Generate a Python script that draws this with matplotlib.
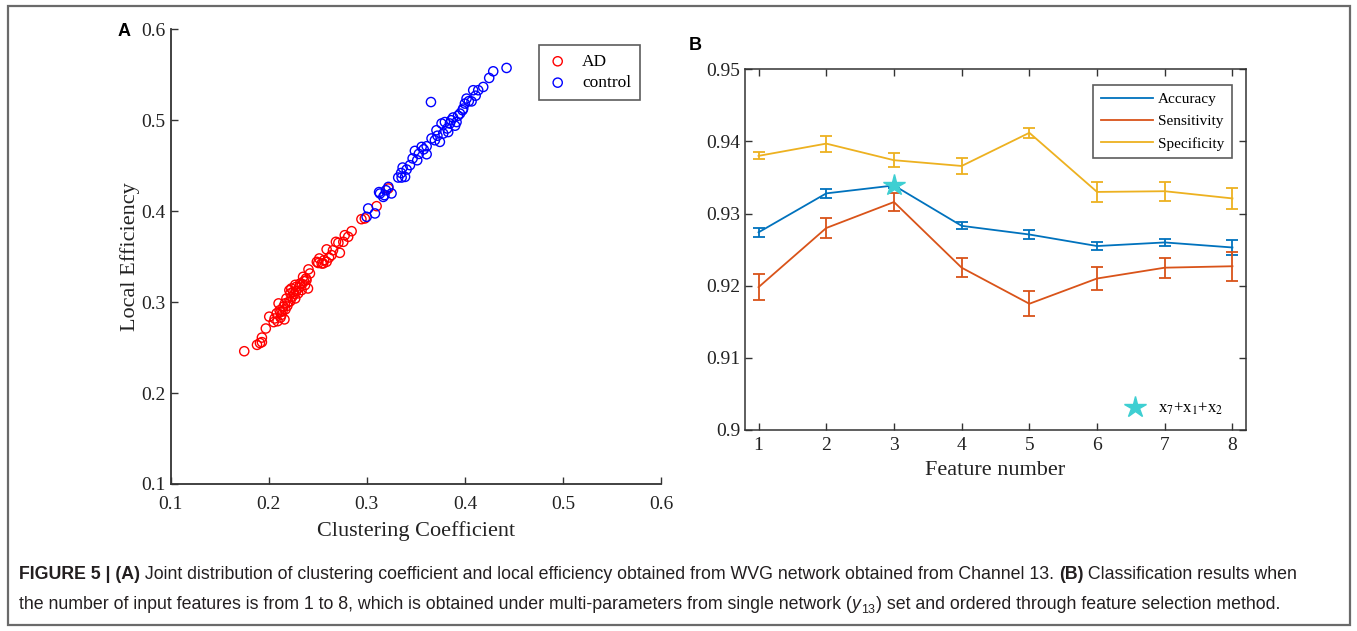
import matplotlib.pyplot as plt
from matplotlib.patches import Rectangle
from matplotlib.lines import Line2D

# ---- panel A: clustering coefficient vs local efficiency ----
ad_cc = [0.175, 0.188, 0.191, 0.193, 0.193, 0.197, 0.2005, 0.205, 0.206, 0.208,
         0.210, 0.211, 0.213, 0.215, 0.2165, 0.218, 0.220, 0.222, 0.223, 0.225,
         0.227, 0.228, 0.230, 0.232, 0.2335, 0.235, 0.237, 0.2385, 0.240, 0.242,
         0.2505, 0.2555, 0.259, 0.209, 0.212, 0.214, 0.217, 0.219, 0.222, 0.224,
         0.226, 0.228, 0.231, 0.234, 0.236, 0.238, 0.227, 0.221, 0.2405, 0.249,
         0.2515, 0.254, 0.2565, 0.259, 0.2615, 0.264, 0.2655, 0.2685, 0.271, 0.2725,
         0.276, 0.2775, 0.281, 0.2845, 0.2945, 0.298, 0.310, 0.322, 0.212, 0.216]
ad_le = [0.246, 0.253, 0.255, 0.256, 0.261, 0.271, 0.284, 0.278, 0.282, 0.2876,
         0.2986, 0.291, 0.286, 0.295, 0.2986, 0.304, 0.300, 0.3096, 0.315, 0.3113,
         0.304, 0.3168, 0.3096, 0.3205, 0.3132, 0.3278, 0.3187, 0.3242, 0.315, 0.3315,
         0.343, 0.3425, 0.3443, 0.279, 0.283, 0.290, 0.292, 0.296, 0.301, 0.306,
         0.309, 0.312, 0.316, 0.320, 0.323, 0.326, 0.319, 0.313, 0.336, 0.3443,
         0.348, 0.3425, 0.3462, 0.358, 0.349, 0.3517, 0.357, 0.3663, 0.3652, 0.3542,
         0.3663, 0.3736, 0.3718, 0.378, 0.3912, 0.392, 0.4055, 0.425, 0.289, 0.281]

ctrl_cc = [0.2998, 0.3014, 0.3083, 0.3134, 0.3168, 0.3195, 0.322, 0.3654, 0.3252, 0.318,
           0.332, 0.3355, 0.339, 0.3365, 0.3406, 0.344, 0.3467, 0.349, 0.3514, 0.3559,
           0.361, 0.361, 0.366, 0.3694, 0.371, 0.3745, 0.3762, 0.3779, 0.3796, 0.382,
           0.3847, 0.388, 0.3915, 0.395, 0.3983, 0.400, 0.4017, 0.4425, 0.4289, 0.4248,
           0.4187, 0.4136, 0.4085, 0.4068, 0.3976, 0.335, 0.353, 0.358, 0.372, 0.386,
           0.393, 0.404, 0.411, 0.383, 0.390, 0.3125]
ctrl_le = [0.3938, 0.403, 0.3975, 0.4194, 0.4157, 0.423, 0.4267, 0.520, 0.4195, 0.4176,
           0.437, 0.437, 0.4377, 0.448, 0.4458, 0.4506, 0.458, 0.4663, 0.456, 0.4707,
           0.4714, 0.4626, 0.480, 0.478, 0.489, 0.4762, 0.4964, 0.4854, 0.498, 0.4909,
           0.4964, 0.503, 0.498, 0.5073, 0.5128, 0.5183, 0.5238, 0.5575, 0.5538, 0.5465,
           0.5366, 0.533, 0.533, 0.5207, 0.511, 0.442, 0.463, 0.468, 0.483, 0.500,
           0.505, 0.521, 0.527, 0.487, 0.494, 0.421]

# ---- panel B: classification results ----
features = [1, 2, 3, 4, 5, 6, 7, 8]
accuracy = [0.9274, 0.9328, 0.9339, 0.9283, 0.9271, 0.9255, 0.9260, 0.9253]
accuracy_err = [0.0006, 0.0006, 0.0004, 0.0005, 0.0006, 0.0006, 0.0005, 0.0010]
sensitivity = [0.9198, 0.9280, 0.9316, 0.9225, 0.9175, 0.9210, 0.9225, 0.9227]
sensitivity_err = [0.0018, 0.0014, 0.0012, 0.0013, 0.0017, 0.0016, 0.0014, 0.0020]
specificity = [0.9380, 0.9397, 0.9374, 0.9366, 0.9412, 0.9330, 0.9331, 0.9321]
specificity_err = [0.0005, 0.0011, 0.0010, 0.0011, 0.0007, 0.0014, 0.0013, 0.0015]
best_feature = 3
best_value = 0.9339

plt.rcParams['font.family'] = ['Liberation Serif', 'DejaVu Serif']
plt.rcParams['mathtext.fontset'] = 'stix'

W, H = 1357, 631
fig = plt.figure(figsize=(W / 100, H / 100), dpi=100)


def box(l, t, r, b):
    return [l / W, 1 - b / H, (r - l) / W, (b - t) / H]


# outer frame
fig.add_artist(Rectangle((7.5 / W, 1 - 625 / H), (1350 - 7.5) / W, (625 - 6) / H,
                         transform=fig.transFigure, fill=False, ec='#6a6a6a', lw=1.6))

# panel A
axA = fig.add_axes(box(170.7, 29.3, 661, 484))
axA.scatter(ad_cc, ad_le, s=44, facecolors='none', edgecolors='#ff0000', linewidths=1.0, label='AD')
axA.scatter(ctrl_cc, ctrl_le, s=44, facecolors='none', edgecolors='#0000ff', linewidths=1.0, label='control')
axA.set_xlim(0.1, 0.6)
axA.set_ylim(0.1, 0.6)
axA.set_xticks([0.1, 0.2, 0.3, 0.4, 0.5, 0.6])
axA.set_yticks([0.1, 0.2, 0.3, 0.4, 0.5, 0.6])
axA.set_xticklabels(['0.1', '0.2', '0.3', '0.4', '0.5', '0.6'])
axA.set_yticklabels(['0.1', '0.2', '0.3', '0.4', '0.5', '0.6'])
axA.spines['top'].set_visible(False)
axA.spines['right'].set_visible(False)
for s in ['left', 'bottom']:
    axA.spines[s].set_color('#333333')
    axA.spines[s].set_linewidth(1.3)
axA.tick_params(direction='in', length=5, width=1, colors='#333333', labelsize=14, labelcolor='#222222')
axA.tick_params(axis='x', pad=8.5)
axA.set_xlabel('Clustering Coefficient', fontsize=16, color='#222222', labelpad=6)
axA.set_ylabel('Local Efficiency', fontsize=16, color='#222222', labelpad=1)
legA = axA.legend(loc='upper left', bbox_to_anchor=(538.6 / W, 1 - 45 / H), bbox_transform=fig.transFigure,
                  fontsize=12.5, frameon=True, fancybox=False, edgecolor='#333333', handletextpad=0.8,
                  borderpad=0.5, labelspacing=0.3, handlelength=1.2, borderaxespad=0)
legA.get_frame().set_linewidth(1.2)

# panel B
C_ACC, C_SEN, C_SPE = '#0072BD', '#D95319', '#EDB120'
axB = fig.add_axes(box(745, 69.3, 1246, 430))
for vals, errs, c, lab in [(accuracy, accuracy_err, C_ACC, 'Accuracy'),
                           (sensitivity, sensitivity_err, C_SEN, 'Sensitivity'),
                           (specificity, specificity_err, C_SPE, 'Specificity')]:
    axB.errorbar(features, vals, yerr=errs, color=c, lw=1.3, elinewidth=1.3,
                 capsize=4, capthick=1.3, label=lab)
star, = axB.plot([best_feature], [best_value], marker='*', ms=16, color='#3ECFD2',
                 ls='none', zorder=5)
axB.set_xlim(0.8, 8.2)
axB.set_ylim(0.9, 0.95)
axB.set_xticks(features)
axB.set_yticks([0.9, 0.91, 0.92, 0.93, 0.94, 0.95])
axB.set_yticklabels(['0.9', '0.91', '0.92', '0.93', '0.94', '0.95'])
for s in axB.spines.values():
    s.set_color('#333333')
    s.set_linewidth(1.1)
axB.tick_params(direction='in', length=5, width=1, colors='#333333', labelsize=14,
                labelcolor='#222222', top=True, right=True)
axB.tick_params(axis='x', pad=5)
axB.set_xlabel('Feature number', fontsize=16, color='#222222', labelpad=5)
h, l = axB.get_legend_handles_labels()
line_handles = [Line2D([], [], color=hh[0].get_color(), lw=1.3) for hh in h]
legB = axB.legend(line_handles, l, loc='upper left', bbox_to_anchor=(1093 / W, 1 - 85 / H),
                  bbox_transform=fig.transFigure, fontsize=11, frameon=True, fancybox=False,
                  edgecolor='#333333', handlelength=3.4, handletextpad=0.35, borderpad=0.5,
                  labelspacing=0.55, borderaxespad=0)
legB.get_frame().set_linewidth(1.2)
axB.add_artist(legB)
axB.legend([star], [r'x$_7$+x$_1$+x$_2$'], loc='center left',
           bbox_to_anchor=(1118 / W, 1 - 409 / H), bbox_transform=fig.transFigure,
           fontsize=12, frameon=False, handletextpad=0.4, borderaxespad=0, borderpad=0)

# panel letters
fig.text(124 / W, 1 - 32 / H, 'A', fontsize=13, fontweight='bold', family='Liberation Sans',
         ha='center', va='center')
fig.text(695 / W, 1 - 45 / H, 'B', fontsize=13, fontweight='bold', family='Liberation Sans',
         ha='center', va='center')

# caption
cap_font = ['Liberation Sans Narrow', 'Liberation Sans']
cs = 12.8


def chain(prev, s, **kw):
    return plt.annotate(s, xy=(1, 0), xycoords=prev, va='bottom', ha='left',
                        fontsize=cs, family=cap_font, color='#231f20', **kw)


t = fig.text(19 / W, 1 - 583 / H, 'FIGURE 5 | (A)', fontsize=cs, family=cap_font,
             fontweight='bold', color='#231f20', va='bottom', ha='left')
t = chain(t, ' Joint distribution of clustering coefficient and local efficiency obtained from '
             'WVG network obtained from Channel 13. ')
t = chain(t, '(B)', fontweight='bold')
t = chain(t, ' Classification results when')

t = fig.text(19 / W, 1 - 613 / H, 'the number of input features is from 1 to 8, which is obtained '
             'under multi-parameters from single network (', fontsize=cs, family=cap_font,
             color='#231f20', va='bottom', ha='left')
t = chain(t, 'y', style='italic')
t2 = plt.annotate('13', xy=(1, 0), xycoords=t, xytext=(0.5, -2), textcoords='offset points',
                  va='bottom', ha='left', fontsize=cs * 0.7, family=cap_font, color='#231f20')
t = plt.annotate(') set and ordered through feature selection method.', xy=(1, 0), xycoords=t2,
                 xytext=(0.5, 2), textcoords='offset points', va='bottom', ha='left',
                 fontsize=cs, family=cap_font, color='#231f20')

fig.savefig('out.png', dpi=100)
